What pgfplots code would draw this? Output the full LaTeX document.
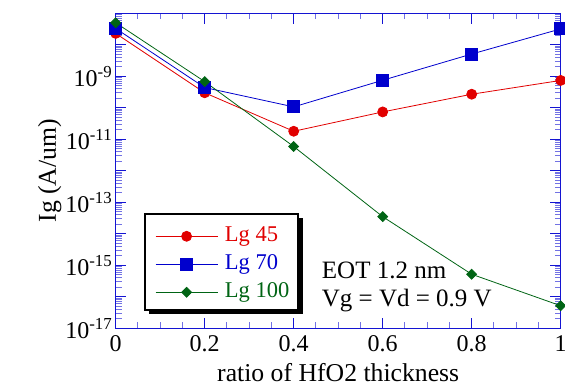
\documentclass[border=0pt]{standalone}
\usepackage{pgfplots}
\pgfplotsset{compat=1.18}
\usepackage{fontspec}
\setmainfont{Liberation Serif}
\usetikzlibrary{calc}
\pgfdeclarelayer{background}
\pgfsetlayers{background,main}
\definecolor{cRed}{RGB}{225,0,0}
\definecolor{cBlue}{RGB}{0,0,205}
\definecolor{cGreen}{RGB}{0,100,20}
\definecolor{axBlue}{RGB}{20,20,210}
\begin{document}
\begin{tikzpicture}
\begin{axis}[
  name=ax,
  scale only axis, width=445pt, height=315pt,
  ymode=log, xmin=0, xmax=1, ymin=1e-17, ymax=1e-7,
  xtick={0,0.2,0.4,0.6,0.8,1},
  xticklabels={0,0.2,0.4,0.6,0.8,1},
  minor x tick num=3,
  ytick={1e-17,1e-16,1e-15,1e-14,1e-13,1e-12,1e-11,1e-10,1e-9,1e-8,1e-7},
  yticklabels={10\textsuperscript{-17},,10\textsuperscript{-15},,10\textsuperscript{-13},,10\textsuperscript{-11},,10\textsuperscript{-9},,},
  minor ytick={2e-17,3e-17,4e-17,5e-17,6e-17,7e-17,8e-17,9e-17,
    2e-16,3e-16,4e-16,5e-16,6e-16,7e-16,8e-16,9e-16,
    2e-15,3e-15,4e-15,5e-15,6e-15,7e-15,8e-15,9e-15,
    2e-14,3e-14,4e-14,5e-14,6e-14,7e-14,8e-14,9e-14,
    2e-13,3e-13,4e-13,5e-13,6e-13,7e-13,8e-13,9e-13,
    2e-12,3e-12,4e-12,5e-12,6e-12,7e-12,8e-12,9e-12,
    2e-11,3e-11,4e-11,5e-11,6e-11,7e-11,8e-11,9e-11,
    2e-10,3e-10,4e-10,5e-10,6e-10,7e-10,8e-10,9e-10,
    2e-9,3e-9,4e-9,5e-9,6e-9,7e-9,8e-9,9e-9,
    2e-8,3e-8,4e-8,5e-8,6e-8,7e-8,8e-8,9e-8},
  axis line style={axBlue, line width=1.2pt},
  major tick style={axBlue, line width=1.2pt},
  minor tick style={axBlue!60, line width=1pt},
  tick align=inside,
  major tick length=10.5pt, minor tick length=6pt,
  tick label style={font=\fontsize{24}{28}\selectfont, text=black},
  xticklabel style={yshift=-4pt},
  xlabel={ratio of HfO2 thickness},
  ylabel={Ig (A/um)},
  label style={font=\fontsize{25.7}{30}\selectfont},
  xlabel style={yshift=-4pt},
  ylabel style={yshift=-3pt},
  legend cell align=left,
  legend image code/.code={\draw[mark repeat=2,mark phase=2,#1] plot coordinates {(0pt,0pt) (31pt,0pt) (62pt,0pt)};},
  legend style={at={(0.0883,0.2032)}, anchor=west, draw=none, fill=none, inner sep=0pt,
    font=\fontsize{22.5}{26}\selectfont,
    nodes={inner sep=0pt, text height=15pt, text depth=5pt}, row sep=8pt, column sep=7pt},
]
\addplot[cRed, line width=0.8pt, mark=*, mark size=5pt, mark options={solid, fill=cRed, draw=cRed}]
  coordinates {(0,2.3e-8) (0.2,3e-10) (0.4,1.8e-11) (0.6,7.4e-11) (0.8,2.7e-10) (1,7.4e-10)};
\addlegendentry{\textcolor{cRed}{Lg 45}}
\addplot[cBlue, line width=0.8pt, mark=square*, mark size=6pt, mark options={solid, fill=cBlue, draw=cBlue}]
  coordinates {(0,3.3e-8) (0.2,4.4e-10) (0.4,1.07e-10) (0.6,7.5e-10) (0.8,5.1e-9) (1,3.2e-8)};
\addlegendentry{\textcolor{cBlue}{Lg 70}}
\addplot[cGreen, line width=0.8pt, mark=square*, mark size=3.5pt, mark options={solid, fill=cGreen, draw=cGreen, rotate=45}]
  coordinates {(0,5e-8) (0.2,6.8e-10) (0.4,5.9e-12) (0.6,3.5e-14) (0.8,5.2e-16) (1,5.2e-17)};
\addlegendentry{\textcolor{cGreen}{Lg 100}}
\coordinate (lbl) at (rel axis cs:0.0658,0.0581);
\coordinate (ltr) at (rel axis cs:0.4097,0.3629);
\node[anchor=west, inner sep=0pt, font=\fontsize{25}{30}\selectfont] at (rel axis cs:0.463,0.185) {EOT 1.2 nm};
\node[anchor=west, inner sep=0pt, font=\fontsize{25}{30}\selectfont] at (rel axis cs:0.463,0.087) {Vg = Vd = 0.9 V};
\end{axis}
\begin{pgfonlayer}{background}
\fill[black] ($(lbl)+(4.5pt,-4.5pt)$) rectangle ($(ltr)+(4.5pt,-4.5pt)$);
\draw[black, line width=1.2pt, fill=white] (lbl) rectangle (ltr);
\end{pgfonlayer}
\pgfresetboundingbox
\path[use as bounding box] ($(ax.south west)+(-115.7pt,-57.7pt)$) rectangle ($(ax.north east)+(4.3pt,13.3pt)$);
\end{tikzpicture}
\end{document}
